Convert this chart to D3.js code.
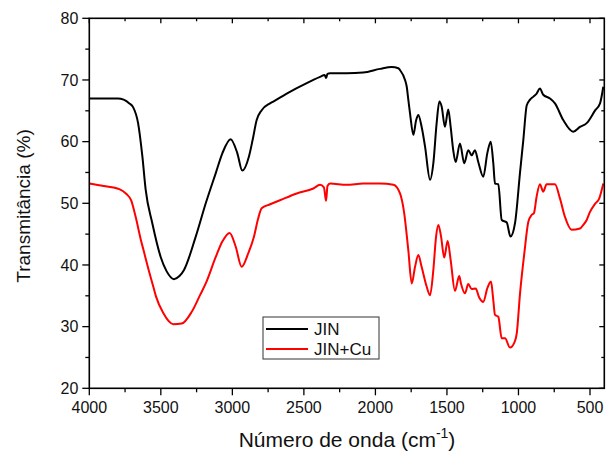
<!DOCTYPE html>
<html>
<head>
<meta charset="utf-8">
<script src="https://cdn.jsdelivr.net/npm/d3@7/dist/d3.min.js"></script>
<style>
body { margin: 0; background: #fff; }
svg text { font-family: Arial, "Liberation Sans", sans-serif; fill: #111; }
</style>
</head>
<body>
<svg id="chart" width="606" height="453"></svg>
<script>
// wavenumbers (cm-1) and transmittance (%)
var jin_wn = [4000,3900,3800,3760,3720,3694,3659,3629,3606,3560,3501,3460,3408,3370,3338,3256,3186,3116,3070,3012,2965,2931,2884,2858,2830,2795,2737,2714,2620,2480,2387,2355,2345,2335,2317,2201,2085,1968,1886,1840,1828,1793,1781,1770,1758,1735,1715,1700,1677,1653,1618,1595,1572,1553,1537,1514,1491,1474,1456,1439,1409,1379,1351,1327,1304,1281,1246,1218,1194,1176,1164,1141,1117,1082,1056,1024,989,966,942,919,896,873,850,827,780,745,687,617,570,523,463,430,407];
var jin_t = [67.0,67.0,67.0,66.8,66.2,65.6,63.0,57.6,52.2,46.8,41.3,39.0,37.7,38.2,39.2,44.6,50.0,54.9,58.1,60.4,58.1,55.3,57.6,60.3,63.5,65.1,66.2,66.5,67.8,69.5,70.5,70.8,70.3,71.0,71.1,71.1,71.2,71.8,72.1,71.9,71.6,70.0,68.9,66.8,64.6,61.1,63.5,64.3,62.4,59.2,53.8,56.5,63.0,66.5,65.7,62.4,65.2,62.4,58.6,56.7,59.7,56.5,58.6,57.8,58.6,56.7,54.3,58.1,60.0,56.5,53.2,53.1,47.3,46.9,44.6,46.8,55.0,60.3,65.9,66.8,67.3,67.8,68.6,67.6,67.0,66.2,63.5,61.6,62.4,63.0,65.1,66.2,68.9];

var cu_wn = [4000,3900,3790,3740,3708,3676,3639,3622,3592,3553,3534,3483,3413,3354,3284,3226,3186,3116,3070,3019,2977,2935,2889,2850,2820,2795,2740,2667,2550,2434,2387,2360,2345,2335,2317,2201,2085,1968,1874,1828,1800,1770,1746,1723,1700,1677,1642,1618,1595,1576,1560,1541,1519,1495,1474,1444,1414,1402,1374,1351,1327,1299,1276,1246,1218,1192,1176,1164,1141,1117,1094,1059,1029,1012,989,959,931,908,892,873,850,827,803,745,710,675,628,570,547,523,500,465,435,407];
var cu_t = [53.2,52.8,52.3,51.5,50.5,47.8,44.0,42.5,39.8,36.5,34.9,32.2,30.4,30.5,32.4,35.1,37.0,41.3,43.8,45.2,43.0,39.7,41.9,44.5,47.5,49.2,49.8,50.5,51.6,52.4,53.0,52.6,50.4,52.8,53.2,53.0,53.2,53.2,53.0,51.6,48.6,42.4,37.0,39.7,41.6,39.7,36.5,35.1,39.2,44.6,46.5,44.6,41.2,43.9,40.8,35.8,38.2,37.0,35.4,36.9,36.1,36.2,34.8,34.0,36.2,37.3,34.3,31.9,31.6,28.1,28.1,26.6,27.4,28.9,35.4,41.9,47.0,48.1,48.4,51.1,53.1,51.9,53.1,53.1,50.8,47.8,45.7,45.9,46.5,47.3,48.6,49.9,50.8,53.2];

var series_names = ["JIN", "JIN+Cu"];
var series_colors = ["#000000", "#ff0000"];
var x_ticks = [4000,3500,3000,2500,2000,1500,1000,500];
var x_minor = [3750,3250,2750,2250,1750,1250,750];
var y_ticks = [20,30,40,50,60,70,80];
var y_minor = [25,35,45,55,65,75];

var svg = d3.select("#chart");
var pL = 89.3, pR = 604.3, pT = 18.3, pB = 388.3;

var x = d3.scaleLinear().domain([4000, 400]).range([pL, pR]);
var y = d3.scaleLinear().domain([20, 80]).range([pB, pT]);

function series(wn, t){
    return wn.map(function(d,i){ return {wn: d, t: t[i]}; });
}
var all = [series(jin_wn, jin_t), series(cu_wn, cu_t)];

var line = d3.line()
    .x(function(d){ return x(d.wn); })
    .y(function(d){ return y(d.t); })
    .curve(d3.curveMonotoneX);

svg.append("g").selectAll("path")
   .data(all)
   .enter().append("path")
   .attr("d", line)
   .attr("fill", "none")
   .attr("stroke", function(d,i){ return series_colors[i]; })
   .attr("stroke-width", 2)
   .attr("stroke-linejoin", "round");

// frame
svg.append("rect")
   .attr("x", pL).attr("y", pT)
   .attr("width", pR-pL).attr("height", pB-pT)
   .attr("fill", "none").attr("stroke", "#000").attr("stroke-width", 1.6);

// major / minor ticks, outside on left + bottom, inside on top + right
var tk = svg.append("g").attr("stroke", "#000").attr("stroke-width", 1.3);
y_ticks.forEach(function(v){
    tk.append("line").attr("x1", pL-7).attr("x2", pL).attr("y1", y(v)).attr("y2", y(v));
    tk.append("line").attr("x1", pR).attr("x2", pR-5).attr("y1", y(v)).attr("y2", y(v));
});
y_minor.forEach(function(v){
    tk.append("line").attr("x1", pL-4).attr("x2", pL).attr("y1", y(v)).attr("y2", y(v));
    tk.append("line").attr("x1", pR).attr("x2", pR-3).attr("y1", y(v)).attr("y2", y(v));
});
x_ticks.forEach(function(v){
    tk.append("line").attr("x1", x(v)).attr("x2", x(v)).attr("y1", pB).attr("y2", pB+7);
    tk.append("line").attr("x1", x(v)).attr("x2", x(v)).attr("y1", pT).attr("y2", pT+5);
});
x_minor.forEach(function(v){
    tk.append("line").attr("x1", x(v)).attr("x2", x(v)).attr("y1", pB).attr("y2", pB+4);
    tk.append("line").attr("x1", x(v)).attr("x2", x(v)).attr("y1", pT).attr("y2", pT+3);
});

// tick labels
svg.append("g").selectAll("text")
   .data(y_ticks).enter().append("text")
   .attr("x", pL-11).attr("y", function(d){ return y(d); })
   .attr("dy", "0.35em")
   .attr("text-anchor", "end")
   .style("font-size", "16px")
   .text(function(d){ return d; });

svg.append("g").selectAll("text")
   .data(x_ticks).enter().append("text")
   .attr("x", function(d){ return x(d); }).attr("y", pB+25)
   .attr("text-anchor", "middle")
   .style("font-size", "16px")
   .text(function(d){ return d; });

// axis titles
svg.append("text")
   .attr("transform", "translate(30,206) rotate(-90)")
   .attr("text-anchor", "middle")
   .style("font-size", "19px")
   .text("Transmitância (%)");

var xt = svg.append("text")
   .attr("x", 347).attr("y", 447)
   .attr("text-anchor", "middle")
   .style("font-size", "21px");
xt.append("tspan").text("Número de onda (cm");
xt.append("tspan").attr("dy", -9).style("font-size", "14px").text("-1");
xt.append("tspan").attr("dy", 9).text(")");

// legend
var lg = svg.append("g").attr("transform", "translate(263,317)");
lg.append("rect").attr("width", 116).attr("height", 42)
  .attr("fill", "#fff").attr("stroke", "#333").attr("stroke-width", 1);
series_names.forEach(function(name, i){
    lg.append("line").attr("x1", 3).attr("x2", 45)
      .attr("y1", 12+i*20).attr("y2", 12+i*20)
      .attr("stroke", series_colors[i]).attr("stroke-width", 2);
    lg.append("text").attr("x", 51).attr("y", 12+i*20).attr("dy", "0.36em")
      .style("font-size", "17px").text(name);
});
</script>
</body>
</html>
